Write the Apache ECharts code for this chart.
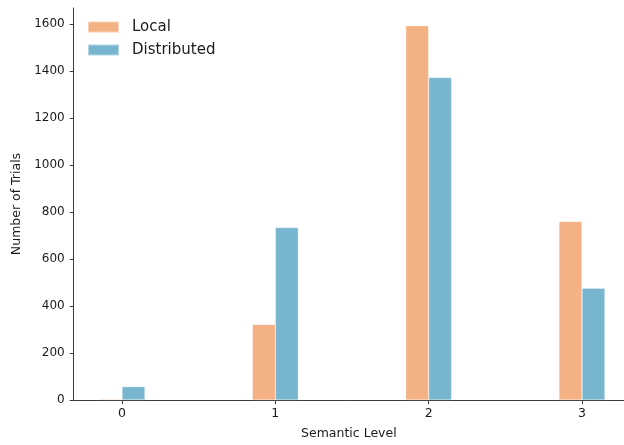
<!DOCTYPE html>
<html>
<head>
<meta charset="utf-8">
<script src="https://cdn.jsdelivr.net/npm/echarts@6/dist/echarts.min.js"></script>
<style>
  html, body { margin: 0; padding: 0; background: #fff; }
  #chart { width: 624px; height: 445px; }
</style>
</head>
<body>
<div id="chart"></div>
<script>
// Trial counts per semantic level for the two representations
const levels = [0, 1, 2, 3];
const levelLabels = ['0', '1', '2', '3'];
const localTrials = [4, 322, 1593, 760];
const distributedTrials = [57, 734, 1373, 476];
const yTicks = [0, 200, 400, 600, 800, 1000, 1200, 1400, 1600];

const FONT = 'DejaVu Sans';
const AXIS_COLOR = '#3a3a3a';

const chart = echarts.init(document.getElementById('chart'), null, { renderer: 'canvas' });

const pairs = (vals) => levels.map((l, i) => [l, vals[i]]);

chart.setOption({
  animation: false,
  backgroundColor: '#ffffff',
  textStyle: { fontFamily: FONT },
  grid: { left: 73.7, right: 0, top: 8, bottom: 45, containLabel: false },
  legend: {
    orient: 'vertical',
    left: 87,
    top: 18,
    padding: 0,
    itemWidth: 31,
    itemHeight: 11,
    itemGap: 5,
    icon: 'rect',
    textStyle: { fontFamily: FONT, fontSize: 15, color: '#1a1a1a', lineHeight: 18, padding: [0, 0, 0, 8] },
    data: ['Local', 'Distributed']
  },
  xAxis: {
    type: 'value',
    min: -0.315,
    max: 3.274,
    name: 'Semantic Level',
    nameLocation: 'middle',
    nameGap: 27,
    nameTextStyle: { fontFamily: FONT, fontSize: 12.5, color: '#1a1a1a' },
    splitLine: { show: false },
    axisLine: { show: true, onZero: false, lineStyle: { color: AXIS_COLOR, width: 1 } },
    axisTick: { show: true, length: 4, customValues: levels, lineStyle: { color: AXIS_COLOR } },
    axisLabel: {
      customValues: levels,
      margin: 7,
      fontFamily: FONT, fontSize: 12.5, color: '#1a1a1a',
      formatter: (v) => levelLabels[levels.indexOf(Math.round(v))]
    }
  },
  yAxis: {
    type: 'value',
    min: 0,
    max: 1668,
    name: 'Number of Trials',
    nameLocation: 'middle',
    nameGap: 48,
    nameTextStyle: { fontFamily: FONT, fontSize: 12.5, color: '#1a1a1a' },
    splitLine: { show: false },
    axisLine: { show: true, onZero: false, lineStyle: { color: AXIS_COLOR, width: 1 } },
    axisTick: { show: true, length: 4, customValues: yTicks, lineStyle: { color: AXIS_COLOR } },
    axisLabel: {
      customValues: yTicks,
      margin: 9,
      fontFamily: FONT, fontSize: 12, color: '#1a1a1a',
      formatter: (v) => String(v)
    }
  },
  series: [
    {
      name: 'Local',
      type: 'bar',
      barWidth: 23,
      barGap: '0%',
      itemStyle: { color: '#F4B183', borderColor: 'rgba(255,255,255,0.45)', borderWidth: 0.6 },
      data: pairs(localTrials)
    },
    {
      name: 'Distributed',
      type: 'bar',
      barWidth: 23,
      barGap: '0%',
      itemStyle: { color: '#78B6CF', borderColor: 'rgba(255,255,255,0.45)', borderWidth: 0.6 },
      data: pairs(distributedTrials)
    }
  ]
});
</script>
</body>
</html>
